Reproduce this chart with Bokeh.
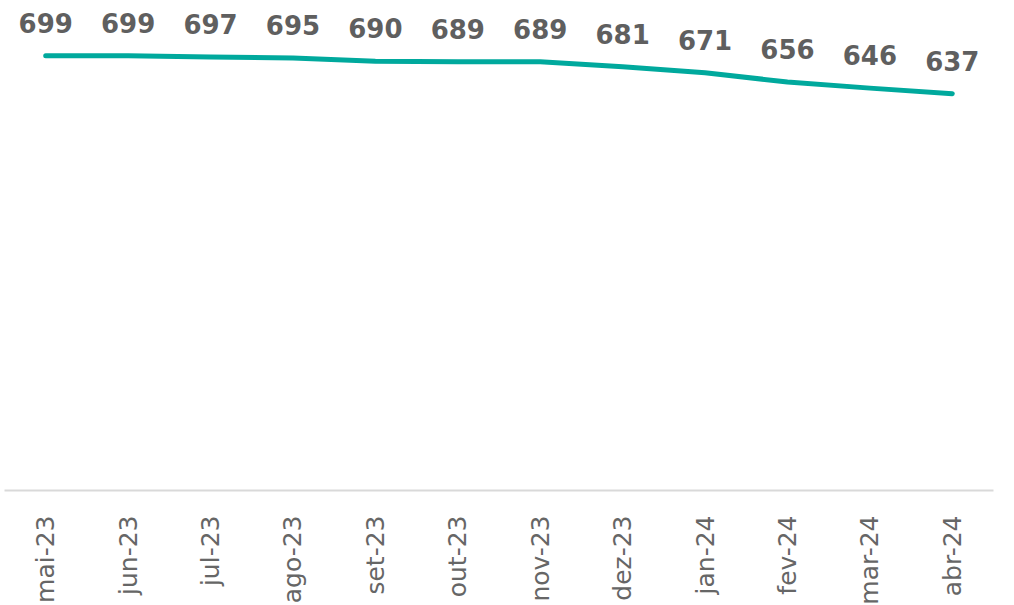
from bokeh.plotting import figure
from bokeh.models import ColumnDataSource, Range1d
from bokeh.core.properties import value
from bokeh.embed import file_html
from bokeh.resources import INLINE
import math

months = ["mai-23", "jun-23", "jul-23", "ago-23", "set-23", "out-23",
          "nov-23", "dez-23", "jan-24", "fev-24", "mar-24", "abr-24"]
values = [699, 699, 697, 695, 690, 689, 689, 681, 671, 656, 646, 637]
labels = [str(v) for v in values]

src = ColumnDataSource(dict(x=months, y=values, t=labels))

p = figure(x_range=months, y_range=Range1d(-11, 776), frame_width=989, frame_height=482,
           output_backend="svg", toolbar_location=None,
           min_border_left=4, min_border_right=5, min_border_top=8, min_border_bottom=100)
p.outline_line_color = None
p.xgrid.grid_line_color = None
p.ygrid.grid_line_color = None
p.yaxis.visible = False
p.background_fill_color = "white"

p.line("x", "y", source=src, line_color="#00A99D", line_width=5, line_cap="round", line_join="round")
p.text("x", "y", text="t", source=src, y_offset=-23, text_align="center", text_baseline="bottom",
       text_font=value("DejaVu Sans"), text_font_style="bold", text_font_size="26px",
       text_color="#5f5f5f")

ax = p.xaxis[0]
ax.major_label_orientation = math.pi / 2
ax.major_tick_line_color = None
ax.minor_tick_line_color = None
ax.axis_line_color = "#d9d9d9"
ax.axis_line_width = 2
ax.major_label_text_font = "DejaVu Sans"
ax.major_label_text_font_size = "25px"
ax.major_label_text_color = "#666666"
ax.major_label_standoff = 19

open("out.html", "w").write(file_html(p, INLINE))
